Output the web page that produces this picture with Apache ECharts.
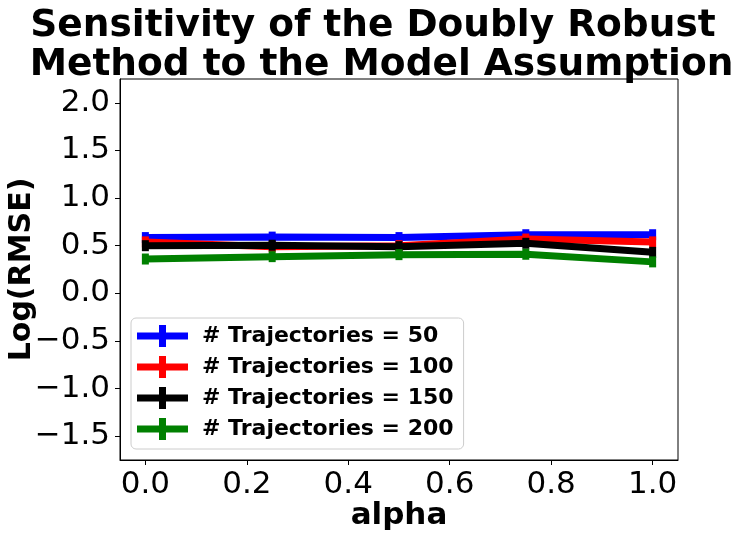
<!DOCTYPE html>
<html>
<head>
<meta charset="utf-8">
<script src="https://cdn.jsdelivr.net/npm/echarts@6/dist/echarts.min.js"></script>
<style>html,body{margin:0;padding:0;background:#fff}#c{width:741px;height:536px}</style>
</head>
<body>
<div id="c"></div>
<script>
var alpha = [0, 0.25, 0.5, 0.75, 1.0];
var traj50 = [0.585, 0.59, 0.585, 0.615, 0.615];
var traj100 = [0.54, 0.49, 0.50, 0.57, 0.54];
var traj150 = [0.50, 0.505, 0.49, 0.525, 0.43];
var traj200 = [0.36, 0.385, 0.406, 0.41, 0.33];
var seriesNames = ['# Trajectories = 50', '# Trajectories = 100', '# Trajectories = 150', '# Trajectories = 200'];
var seriesColors = ['#0000ff', '#ff0000', '#000000', '#008000'];
var xTicks = [0, 0.2, 0.4, 0.6, 0.8, 1.0];
var yTicks = [-1.5, -1.0, -0.5, 0.0, 0.5, 1.0, 1.5, 2.0];
var titleLines = ['Sensitivity of the Doubly Robust', 'Method to the Model Assumption'];

var font = 'DejaVu Sans';
function fmt(v){ return v.toFixed(1).replace('-', '\u2212'); }
function pairs(ys){ return alpha.map(function(x,i){ return [x, ys[i]]; }); }
var allData = [traj50, traj100, traj150, traj200];
var plusIcon = 'path://M0,7.5h51v7h-51z M22,0h7v22h-7z';
var titleStyle = {fontFamily: font, fontWeight: 'bold', fontSize: 37.5, color: '#000'};

var chart = echarts.init(document.getElementById('c'), null, {renderer:'canvas'});
chart.setOption({
  animation: false,
  title: [
    {text: titleLines[0], left: 373, top: 7, textAlign: 'center', padding: 0, textStyle: titleStyle},
    {text: titleLines[1], left: 381.5, top: 46, textAlign: 'center', padding: 0, textStyle: titleStyle}
  ],
  grid: {left: 120, right: 63, top: 79, bottom: 76, show: true, borderColor: '#000', borderWidth: 1,
         backgroundColor: 'transparent', containLabel: false, outerBoundsMode: 'none'},
  legend: {
    left: 131, top: 318, orient: 'vertical',
    itemWidth: 51, itemHeight: 22, itemGap: 9,
    padding: [7, 10, 9, 6],
    borderColor: '#cccccc', borderWidth: 1, borderRadius: 5,
    backgroundColor: 'rgba(255,255,255,0.8)',
    textStyle: {fontFamily: font, fontWeight: 'bold', fontSize: 22, color: '#000', padding: [0,0,0,9]},
    data: seriesNames.map(function(n){ return {name: n, icon: plusIcon}; })
  },
  xAxis: {
    type: 'value', min: -0.05, max: 1.05,
    name: 'alpha', nameLocation: 'middle', nameGap: 40, nameMoveOverlap: false,
    nameTextStyle: {fontFamily: font, fontWeight: 'bold', fontSize: 31, color: '#000'},
    axisLine: {show: true, onZero: false, lineStyle: {color: '#000', width: 1}},
    axisTick: {show: true, inside: false, length: 5, lineStyle: {color: '#000'}, customValues: xTicks},
    axisLabel: {fontFamily: font, fontSize: 31, color: '#000', margin: 9, customValues: xTicks, formatter: fmt},
    splitLine: {show: false}
  },
  yAxis: {
    type: 'value', min: -1.75, max: 2.25,
    name: 'Log(RMSE)', nameLocation: 'middle', nameGap: 83, nameRotate: 90, nameMoveOverlap: false,
    nameTextStyle: {fontFamily: font, fontWeight: 'bold', fontSize: 30, color: '#000'},
    axisLine: {show: true, onZero: false, lineStyle: {color: '#000', width: 1}},
    axisTick: {show: true, inside: false, length: 5, lineStyle: {color: '#000'}, customValues: yTicks},
    axisLabel: {fontFamily: font, fontSize: 31, color: '#000', margin: 10, customValues: yTicks, formatter: fmt},
    splitLine: {show: false}
  },
  series: seriesNames.map(function(n, i){
    return {
      name: n, type: 'line', data: pairs(allData[i]),
      symbol: 'rect', symbolSize: [7, 11], showSymbol: true,
      itemStyle: {color: seriesColors[i]},
      lineStyle: {color: seriesColors[i], width: 7},
      z: 2 + i
    };
  })
});
</script>
</body>
</html>
